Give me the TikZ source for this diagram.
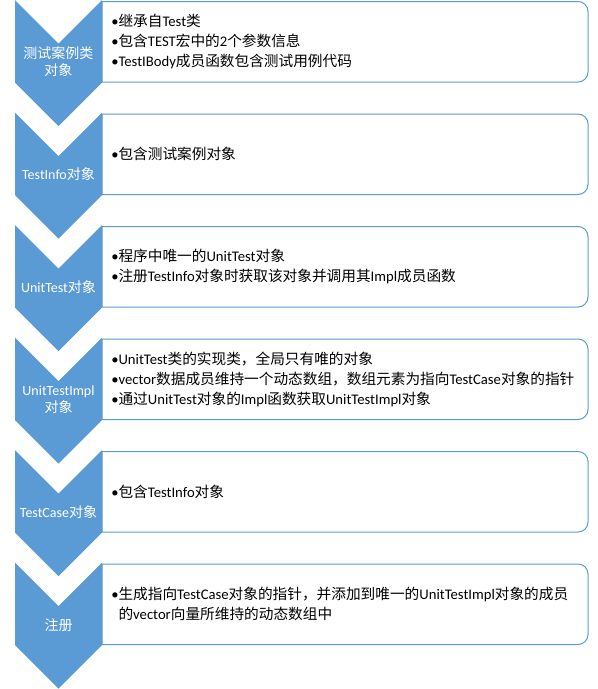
\documentclass[tikz,border=0pt]{standalone}
\usepackage{fontspec}
\setmainfont{Carlito}
\newfontfamily\latfont{Carlito}
\newfontfamily\cjkfont{Noto Sans CJK SC}
% automatic switch between Latin and CJK fonts
\XeTeXinterchartokenstate=1
\newXeTeXintercharclass\cjkcls
\newcount\cjkc
\cjkc="3000 \loop\XeTeXcharclass\cjkc=\cjkcls\relax\ifnum\cjkc<"303F \advance\cjkc by 1 \repeat
\cjkc="4E00 \loop\XeTeXcharclass\cjkc=\cjkcls\relax\ifnum\cjkc<"9FFF \advance\cjkc by 1 \repeat
\cjkc="FF00 \loop\XeTeXcharclass\cjkc=\cjkcls\relax\ifnum\cjkc<"FFEF \advance\cjkc by 1 \repeat
\XeTeXinterchartoks 0 \cjkcls = {\cjkfont}
\XeTeXinterchartoks 4095 \cjkcls = {\cjkfont}
\XeTeXinterchartoks \cjkcls 0 = {\latfont}
\XeTeXinterchartoks \cjkcls 4095 = {\latfont}
\definecolor{chevblue}{RGB}{91,155,213}
\tikzset{
  chevshape/.style={fill=chevblue},
  descbox/.style={draw=chevblue, line width=0.75pt, fill=white},
  chevlabel/.style={text=white, align=center, inner sep=0pt, font=\fontsize{10.5}{12.75}\selectfont},
  desctext/.style={text=black, anchor=west, align=left, inner sep=0pt, font=\fontsize{11}{15}\selectfont}
}
\begin{document}
\begin{tikzpicture}[x=0.75pt,y=-0.75pt]
\useasboundingbox (0,0) rectangle (598,689);
\foreach \i in {0,...,5}{
  \pgfmathsetmacro\T{112.5*\i}
  \draw[descbox] (102,\T+82) -- (102,\T+1.5) [rounded corners=7.5pt] -- (588,\T+1.5) -- (588,\T+82) [sharp corners] -- cycle;
  \fill[chevshape] (15,\T) -- (58.5,\T+43.5) -- (102,\T) -- (102,\T+82.5) -- (58.5,\T+126) -- (15,\T+82.5) -- cycle;
}
\node[chevlabel] (c1) at (58.5,62) {测试案例类\\对象};
\node[chevlabel] (c2) at (58.5,174) {TestInfo对象};
\node[chevlabel] (c3) at (58.5,287) {UnitTest对象};
\node[chevlabel] (c4) at (58.5,399.5) {UnitTestImpl\\对象};
\node[chevlabel] (c5) at (58.5,512) {TestCase对象};
\node[chevlabel] (c6) at (58.5,625) {注册};

\node[desctext] (d1) at (111,41.75) {•继承自Test类\\•包含TEST宏中的2个参数信息\\•TestIBody成员函数包含测试用例代码};
\node[desctext] (d2) at (111,154.25) {•包含测试案例对象};
\node[desctext] (d3) at (111,266.75) {•程序中唯一的UnitTest对象\\•注册TestInfo对象时获取该对象并调用其Impl成员函数};
\node[desctext] (d4) at (111,379.25) {•UnitTest类的实现类，全局只有唯的对象\\•vector数据成员维持一个动态数组，数组元素为指向TestCase对象的指针\\•通过UnitTest对象的Impl函数获取UnitTestImpl对象};
\node[desctext] (d5) at (111,491.75) {•包含TestInfo对象};
\node[desctext] (d6) at (111,604.25) {•生成指向TestCase对象的指针，并添加到唯一的UnitTestImpl对象的成员\\\phantom{•}的vector向量所维持的动态数组中};
\end{tikzpicture}
\end{document}
